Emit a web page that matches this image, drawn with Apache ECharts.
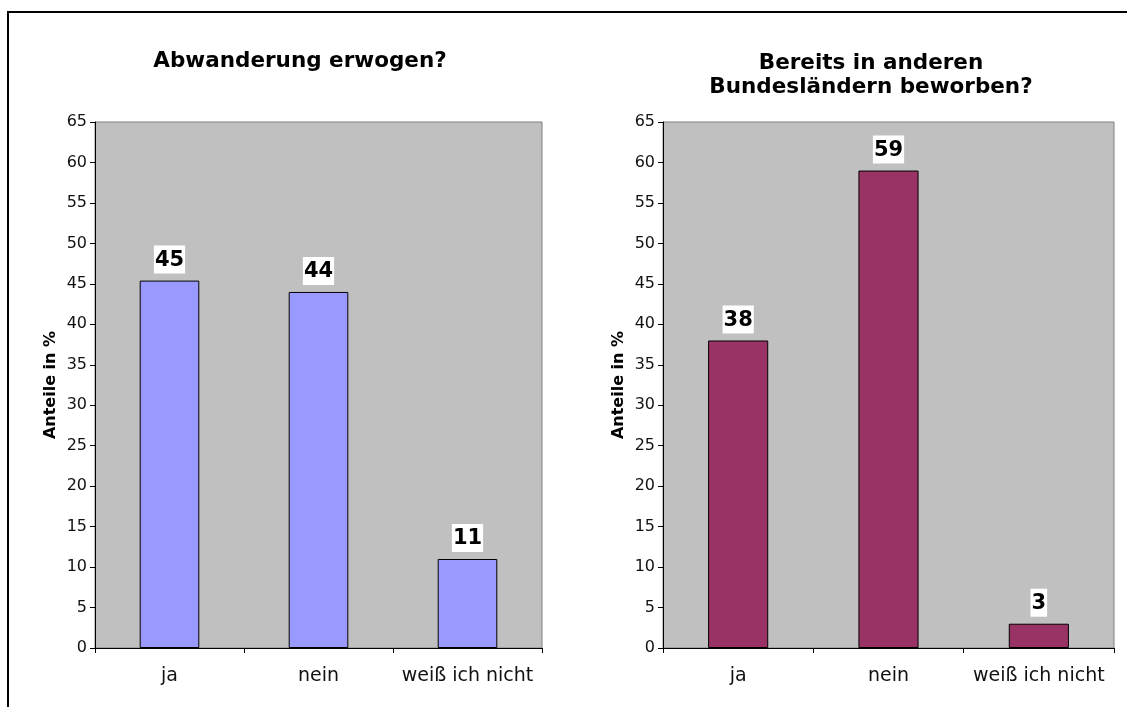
<!DOCTYPE html>
<html><head><meta charset="utf-8">
<script src="https://cdn.jsdelivr.net/npm/echarts@6/dist/echarts.min.js"></script>
<style>html,body{margin:0;padding:0;background:#fff}#c{width:1127px;height:707px}</style>
</head><body><div id="c"></div>
<script>
const categories = ['ja', 'nein', 'weiß ich nicht'];
const leftValues = [45.4, 44.0, 11.0];
const leftLabels = ['45', '44', '11'];
const rightValues = [38.0, 59.0, 3.0];
const rightLabels = ['38', '59', '3'];
const leftTitle = 'Abwanderung erwogen?';
const rightTitle = 'Bereits in anderen\nBundesländern beworben?';
const yAxisName = 'Anteile in %';

const FONT = '"DejaVu Sans", Verdana, sans-serif';
const chart = echarts.init(document.getElementById('c'));

function yAxis(gi) {
  return {
    gridIndex: gi, type: 'value', min: 0, max: 65, interval: 5,
    name: yAxisName, nameLocation: 'middle', nameGap: 36, nameRotate: 90,
    nameTextStyle: {fontFamily: FONT, fontWeight: 'bold', fontSize: 16, color: '#000'},
    axisLine: {show: true, lineStyle: {color: '#000', width: 1}},
    axisTick: {show: true, length: 5, lineStyle: {color: '#000'}},
    axisLabel: {fontFamily: FONT, fontSize: 16, color: '#111', margin: 8},
    splitLine: {show: false}
  };
}
function xAxis(gi) {
  return {
    gridIndex: gi, type: 'category', data: categories,
    axisLine: {lineStyle: {color: '#000', width: 1}},
    axisTick: {show: true, length: 5, interval: 0, alignWithLabel: false, lineStyle: {color: '#000'}},
    axisLabel: {fontFamily: FONT, fontSize: 19, color: '#111', margin: 19, interval: 0, hideOverlap: false}
  };
}
function series(gi, vals, labels, color) {
  return {
    type: 'bar', xAxisIndex: gi, yAxisIndex: gi, data: vals, barWidth: '40%',
    itemStyle: {color: color, borderColor: '#000', borderWidth: 1},
    label: {
      show: true, position: 'top', distance: 7,
      formatter: p => labels[p.dataIndex],
      fontFamily: FONT, fontWeight: 'bold', fontSize: 21, color: '#000',
      backgroundColor: '#fff', padding: [3, 1, 1, 1], lineHeight: 24
    }
  };
}

chart.setOption({
  animation: false,
  backgroundColor: '#fff',
  title: [
    {text: leftTitle, left: 295, top: 45, textAlign: 'center',
     textStyle: {fontFamily: FONT, fontWeight: 'bold', fontSize: 21.5, color: '#000'}},
    {text: rightTitle, left: 866, top: 46, textAlign: 'center',
     textStyle: {fontFamily: FONT, fontWeight: 'bold', fontSize: 21.5, color: '#000', lineHeight: 24}}
  ],
  grid: [
    {left: 95, top: 122, width: 447, height: 526, show: true, backgroundColor: '#C0C0C0', borderColor: '#808080', borderWidth: 1},
    {left: 663, top: 122, width: 451, height: 526, show: true, backgroundColor: '#C0C0C0', borderColor: '#808080', borderWidth: 1}
  ],
  xAxis: [xAxis(0), xAxis(1)],
  yAxis: [yAxis(0), yAxis(1)],
  series: [
    series(0, leftValues, leftLabels, '#9999FF'),
    series(1, rightValues, rightLabels, '#993366')
  ],
  graphic: [{
    type: 'rect', shape: {x: 8, y: 12, width: 1140, height: 720},
    style: {fill: null, stroke: '#000', lineWidth: 2}, z: 100, silent: true
  }]
});
</script></body></html>
